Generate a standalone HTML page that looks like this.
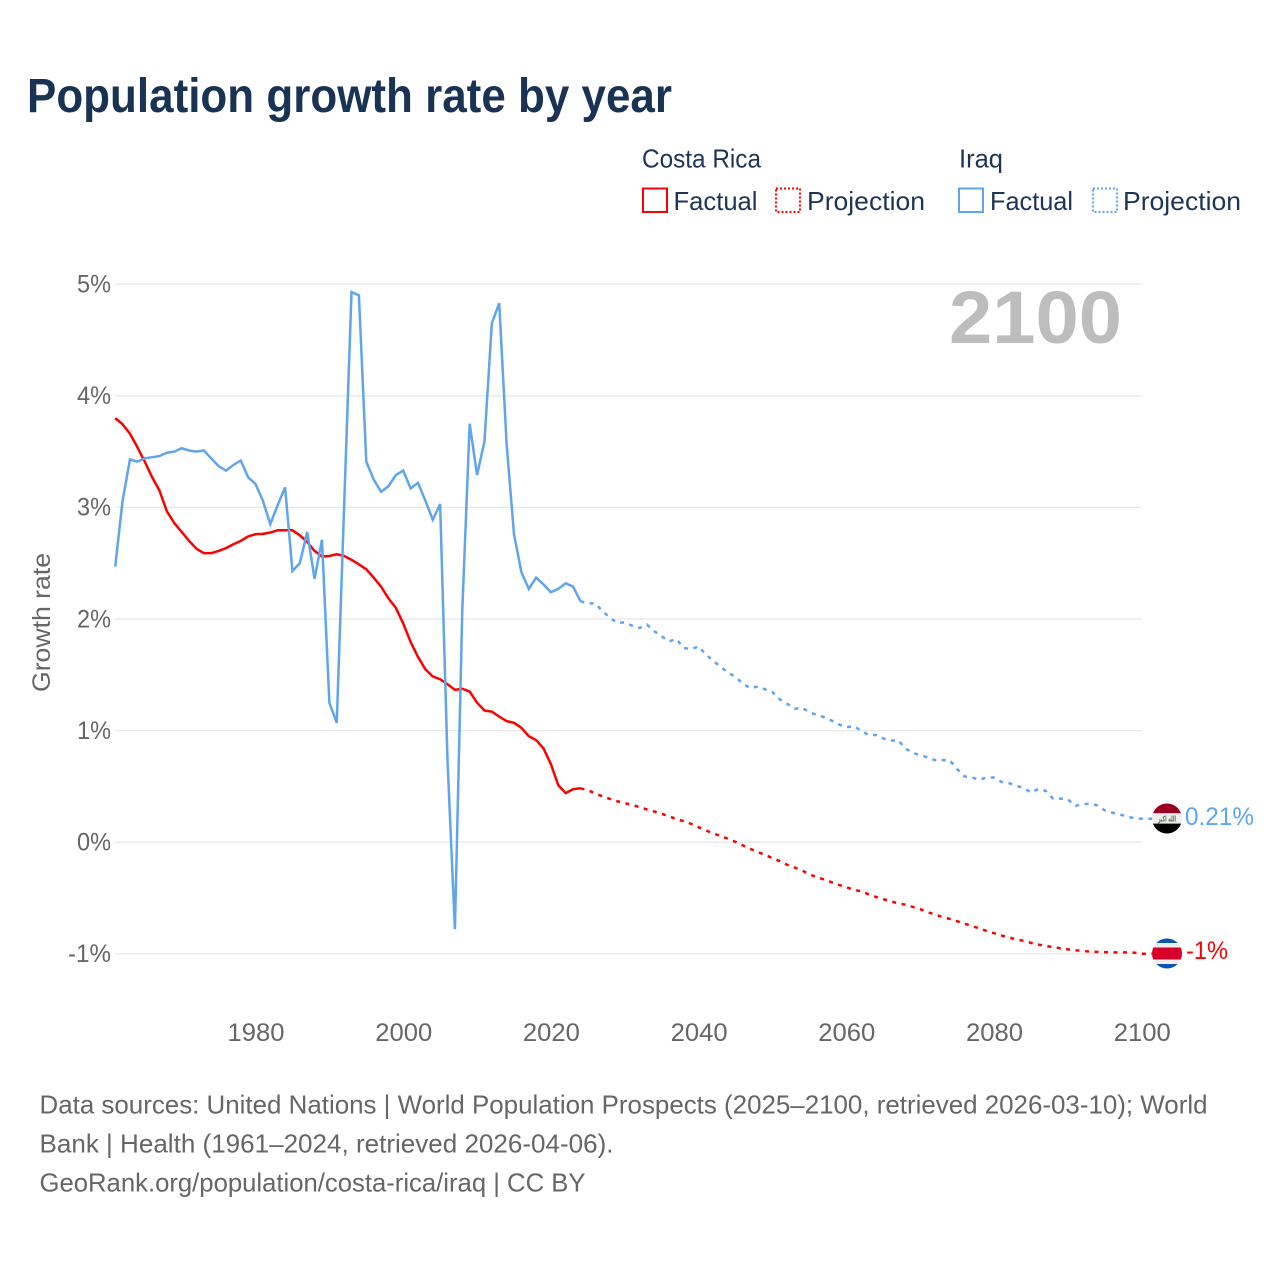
<!DOCTYPE html>
<html lang="en">
<head>
<meta charset="utf-8">
<title>Population growth rate by year</title>
<style>
html,body{margin:0;padding:0;background:#fff;}
svg{display:block;font-family:"Liberation Sans","DejaVu Sans",sans-serif;}
</style>
</head>
<body>
<svg id="chart" xmlns="http://www.w3.org/2000/svg" width="1280" height="1280" viewBox="0 0 1280 1280">
  <rect width="1280" height="1280" fill="#ffffff"/>
  <text x="27" y="112" font-size="48" font-weight="700" fill="#1a3355" textLength="645" lengthAdjust="spacingAndGlyphs">Population growth rate by year</text>

  <g font-size="26" fill="#1c3557">
    <text x="642" y="167.5" textLength="119" lengthAdjust="spacingAndGlyphs">Costa Rica</text>
    <text x="959" y="167.5" textLength="44" lengthAdjust="spacingAndGlyphs">Iraq</text>
    <g>
      <rect x="643" y="188.5" width="24" height="23.5" fill="none" stroke="#ff0000" stroke-width="2"/>
      <text x="673.5" y="210" textLength="84" lengthAdjust="spacingAndGlyphs">Factual</text>
    </g>
    <g>
      <rect x="776" y="188.5" width="24" height="23.5" fill="none" stroke="#ff0000" stroke-width="2" stroke-dasharray="2 2"/>
      <text x="807" y="210" textLength="118" lengthAdjust="spacingAndGlyphs">Projection</text>
    </g>
    <g>
      <rect x="959" y="188.5" width="24" height="23.5" fill="none" stroke="#5fa5ec" stroke-width="2"/>
      <text x="990" y="210" textLength="83" lengthAdjust="spacingAndGlyphs">Factual</text>
    </g>
    <g>
      <rect x="1093" y="188.5" width="24" height="23.5" fill="none" stroke="#5fa5ec" stroke-width="2" stroke-dasharray="2 2"/>
      <text x="1123" y="210" textLength="118" lengthAdjust="spacingAndGlyphs">Projection</text>
    </g>
  </g>

  <g id="grid"></g>
  <g id="yLabels"></g>
  <g id="xLabels"></g>
  <text transform="translate(50 692) rotate(-90)" font-size="25" fill="#666666" textLength="139" lengthAdjust="spacingAndGlyphs">Growth rate</text>
  <text x="949" y="343" font-size="74" font-weight="700" fill="#bdbdbd" textLength="173" lengthAdjust="spacingAndGlyphs">2100</text>

  <g id="series"></g>

  <defs>
    <clipPath id="flagClipIraq"><circle cx="1167" cy="818.5" r="15"/></clipPath>
    <clipPath id="flagClipCR"><circle cx="1167" cy="953.5" r="15"/></clipPath>
  </defs>
  <g clip-path="url(#flagClipIraq)">
    <rect x="1150" y="803" width="34" height="10.3" fill="#9b0020"/>
    <rect x="1150" y="813.3" width="34" height="10.3" fill="#eeeeee"/>
    <rect x="1150" y="823.6" width="34" height="10.4" fill="#000000"/>
    <text x="1158" y="821.5" font-size="8" font-weight="700" fill="#55733f" textLength="18" lengthAdjust="spacingAndGlyphs" font-family="'DejaVu Sans',sans-serif">الله اكبر</text>
  </g>
  <g clip-path="url(#flagClipCR)">
    <rect x="1150" y="938" width="34" height="5" fill="#0b55ae"/>
    <rect x="1150" y="943" width="34" height="5" fill="#eeeeee"/>
    <rect x="1150" y="947.5" width="34" height="12" fill="#d8002b"/>
    <rect x="1150" y="959.5" width="34" height="5" fill="#eeeeee"/>
    <rect x="1150" y="964" width="34" height="6" fill="#0b55ae"/>
  </g>
  <text x="1185" y="825" font-size="25" fill="#5fa5ec" textLength="69" lengthAdjust="spacingAndGlyphs">0.21%</text>
  <text x="1186" y="959" font-size="25" fill="#ff0000" textLength="42" lengthAdjust="spacingAndGlyphs">-1%</text>

  <g font-size="26" fill="#666666">
    <text x="39.5" y="1113.5" textLength="1168" lengthAdjust="spacingAndGlyphs">Data sources: United Nations | World Population Prospects (2025–2100, retrieved 2026-03-10); World</text>
    <text x="39.5" y="1152.5" textLength="574" lengthAdjust="spacingAndGlyphs">Bank | Health (1961–2024, retrieved 2026-04-06).</text>
    <text x="39.5" y="1191.5" textLength="546" lengthAdjust="spacingAndGlyphs">GeoRank.org/population/costa-rica/iraq | CC BY</text>
  </g>
</svg>

<script>
const factualStartYear = 1961;
const projectionStartYear = 2024;
const yTicks = [-1, 0, 1, 2, 3, 4, 5];
const xTicks = [1980, 2000, 2020, 2040, 2060, 2080, 2100];

const costaRicaFactual = [3.80,3.745,3.66,3.54,3.41,3.27,3.15,2.965,2.86,2.78,2.70,2.63,2.59,2.59,2.61,2.635,2.67,2.70,2.74,2.76,2.763,2.775,2.795,2.795,2.795,2.75,2.69,2.61,2.56,2.565,2.58,2.565,2.53,2.49,2.445,2.37,2.29,2.185,2.10,1.96,1.795,1.66,1.55,1.485,1.46,1.415,1.365,1.375,1.35,1.25,1.18,1.17,1.125,1.085,1.07,1.025,0.95,0.915,0.84,0.70,0.51,0.44,0.475,0.483];

const costaRicaProjection = [0.483,0.466,0.437,0.41,0.388,0.367,0.35,0.334,0.314,0.293,0.275,0.254,0.233,0.206,0.188,0.164,0.134,0.105,0.078,0.054,0.03,0.003,-0.03,-0.06,-0.087,-0.114,-0.143,-0.17,-0.203,-0.227,-0.254,-0.287,-0.314,-0.334,-0.358,-0.383,-0.403,-0.427,-0.44,-0.466,-0.49,-0.51,-0.53,-0.547,-0.56,-0.58,-0.60,-0.627,-0.648,-0.67,-0.687,-0.708,-0.73,-0.75,-0.773,-0.795,-0.815,-0.836,-0.854,-0.87,-0.884,-0.902,-0.917,-0.93,-0.94,-0.95,-0.96,-0.968,-0.975,-0.98,-0.983,-0.985,-0.987,-0.987,-0.987,-0.99,-1.0];

const iraqFactual = [2.47,3.06,3.43,3.41,3.44,3.45,3.46,3.49,3.50,3.53,3.51,3.50,3.51,3.44,3.37,3.33,3.38,3.42,3.27,3.21,3.06,2.85,3.02,3.18,2.43,2.50,2.78,2.36,2.71,1.25,1.07,3.01,4.93,4.90,3.41,3.25,3.14,3.19,3.29,3.33,3.17,3.22,3.06,2.89,3.03,0.73,-0.78,2.08,3.75,3.29,3.59,4.65,4.83,3.57,2.76,2.42,2.27,2.37,2.31,2.24,2.27,2.32,2.29,2.16];

const iraqProjection = [2.16,2.14,2.14,2.07,2.01,1.965,1.97,1.94,1.92,1.95,1.89,1.845,1.80,1.82,1.74,1.73,1.755,1.68,1.625,1.57,1.52,1.48,1.42,1.38,1.395,1.37,1.345,1.28,1.24,1.195,1.205,1.165,1.14,1.12,1.09,1.055,1.03,1.04,1.00,0.96,0.96,0.93,0.91,0.915,0.84,0.80,0.78,0.76,0.735,0.735,0.735,0.655,0.59,0.58,0.56,0.58,0.58,0.54,0.53,0.505,0.487,0.445,0.477,0.46,0.39,0.39,0.385,0.325,0.34,0.345,0.33,0.285,0.265,0.25,0.23,0.215,0.21];

const SVGNS = 'http://www.w3.org/2000/svg';
function xScale(year) { return 115.2 + (year - 1961) * 7.385; }
function yScale(value) { return 842.2 - value * 111.6; }
function pathFrom(values, startYear) {
  return values.map(function (v, i) {
    return (i ? 'L' : 'M') + xScale(startYear + i).toFixed(2) + ' ' + yScale(v).toFixed(2);
  }).join(' ');
}

const gridGroup = document.getElementById('grid');
const yLabelGroup = document.getElementById('yLabels');
const xLabelGroup = document.getElementById('xLabels');
const seriesGroup = document.getElementById('series');

yTicks.forEach(function (tick) {
  const line = document.createElementNS(SVGNS, 'line');
  
  
  line.setAttribute('x1', 115);
  line.setAttribute('x2', 1142);
  line.setAttribute('y1', yScale(tick));
  line.setAttribute('y2', yScale(tick));
  line.setAttribute('stroke', '#e8e8e8');
  line.setAttribute('stroke-width', '1.3');
  gridGroup.appendChild(line);

  const label = document.createElementNS(SVGNS, 'text');
  
  
  label.setAttribute('x', 111);
  label.setAttribute('y', yScale(tick) + 8.3);
  label.setAttribute('text-anchor', 'end');
  label.setAttribute('font-size', '25');
  label.setAttribute('fill', '#666666');
  label.setAttribute('textLength', tick < 0 ? 43 : 34);
  label.setAttribute('lengthAdjust', 'spacingAndGlyphs');
  label.textContent = tick + '%';
  yLabelGroup.appendChild(label);
});

xTicks.forEach(function (tick) {
  const label = document.createElementNS(SVGNS, 'text');
  
  
  label.setAttribute('x', xScale(tick) + 0.5);
  label.setAttribute('y', 1041);
  label.setAttribute('text-anchor', 'middle');
  label.setAttribute('font-size', '25');
  label.setAttribute('fill', '#666666');
  label.setAttribute('textLength', 57);
  label.setAttribute('lengthAdjust', 'spacingAndGlyphs');
  label.textContent = tick;
  xLabelGroup.appendChild(label);
});

const redFactualPath = document.createElementNS(SVGNS, 'path');


redFactualPath.setAttribute('d', pathFrom(costaRicaFactual, factualStartYear));
redFactualPath.setAttribute('fill', 'none');
redFactualPath.setAttribute('stroke', '#ff0000');
redFactualPath.setAttribute('stroke-width', '2.5');
redFactualPath.setAttribute('stroke-linejoin', 'round');
seriesGroup.appendChild(redFactualPath);

const redProjectionPath = document.createElementNS(SVGNS, 'path');


redProjectionPath.setAttribute('d', pathFrom(costaRicaProjection, projectionStartYear) + ' H1152');
redProjectionPath.setAttribute('fill', 'none');
redProjectionPath.setAttribute('stroke', '#ff0000');
redProjectionPath.setAttribute('stroke-width', '2.5');
redProjectionPath.setAttribute('stroke-dasharray', '4 5.5');
seriesGroup.appendChild(redProjectionPath);

const blueFactualPath = document.createElementNS(SVGNS, 'path');


blueFactualPath.setAttribute('d', pathFrom(iraqFactual, factualStartYear));
blueFactualPath.setAttribute('fill', 'none');
blueFactualPath.setAttribute('stroke', '#5fa5ec');
blueFactualPath.setAttribute('stroke-width', '2.5');
blueFactualPath.setAttribute('stroke-linejoin', 'miter');
seriesGroup.appendChild(blueFactualPath);

const blueProjectionPath = document.createElementNS(SVGNS, 'path');


blueProjectionPath.setAttribute('d', pathFrom(iraqProjection, projectionStartYear) + ' H1152');
blueProjectionPath.setAttribute('fill', 'none');
blueProjectionPath.setAttribute('stroke', '#5fa5ec');
blueProjectionPath.setAttribute('stroke-width', '2.5');
blueProjectionPath.setAttribute('stroke-dasharray', '4 5.5');
seriesGroup.appendChild(blueProjectionPath);
</script>
</body>
</html>
